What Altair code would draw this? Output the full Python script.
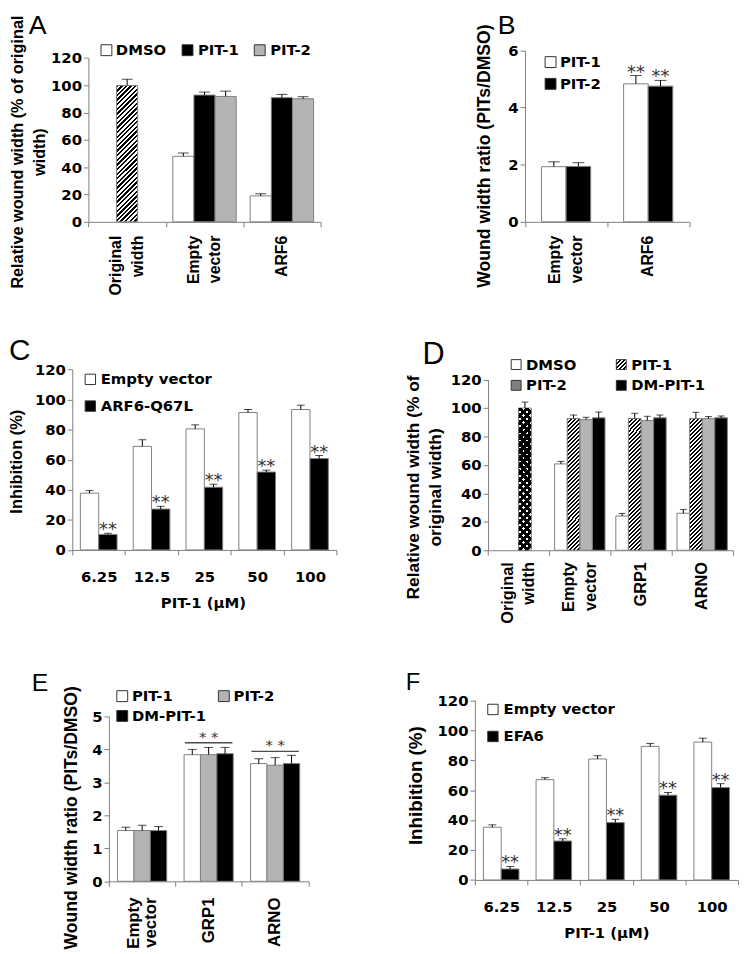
import altair as alt
import pandas as pd

W, H = 739, 946
OX, OY = 8, 8
FH = "DejaVu Sans"
FV = "Liberation Sans"
GRAY = "#808080"
LIGHT = "#b4b4b4"


def cx(v):
    return v - OX


def cy(v):
    return v - OY


# ---------------- data ----------------
A_CATS = ["Original width", "Empty vector", "ARF6"]
A_SERIES = ["DMSO", "PIT-1", "PIT-2"]
A_ORIG = [99.8]
A_ORIG_ERR = [4.6]
A_DMSO = [48.0, 19.0]
A_DMSO_ERR = [2.4, 1.5]
A_PIT1 = [92.8, 90.9]
A_PIT1_ERR = [2.2, 2.4]
A_PIT2 = [91.8, 90.1]
A_PIT2_ERR = [3.9, 1.5]
A_TICKS = [0, 20, 40, 60, 80, 100, 120]

B_CATS = ["Empty vector", "ARF6"]
B_SERIES = ["PIT-1", "PIT-2"]
B_PIT1 = [1.93, 4.83]
B_PIT1_ERR = [0.17, 0.29]
B_PIT2 = [1.94, 4.75]
B_PIT2_ERR = [0.13, 0.20]
B_STARS = ["", "**"]
B_TICKS = [0, 2, 4, 6]

DOSES = ["6.25", "12.5", "25", "50", "100"]
C_SERIES = ["Empty vector", "ARF6-Q67L"]
C_EV = [37.8, 68.9, 80.5, 91.4, 93.4]
C_EV_ERR = [1.7, 4.4, 2.7, 2.0, 2.9]
C_ARF = [10.3, 27.2, 41.7, 51.8, 60.8]
C_ARF_ERR = [0.8, 1.8, 2.0, 1.3, 2.0]
C_STARS = ["**", "**", "**", "**", "**"]
PCT_TICKS = [0, 20, 40, 60, 80, 100, 120]

D_CATS = ["Original width", "Empty vector", "GRP1", "ARNO"]
D_SERIES = ["DMSO", "PIT-1", "PIT-2", "DM-PIT-1"]
D_ORIG = [100.0]
D_ORIG_ERR = [4.2]
D_DMSO = [60.7, 24.1, 26.0]
D_DMSO_ERR = [1.8, 1.8, 2.7]
D_PIT1 = [92.6, 92.6, 92.6]
D_PIT1_ERR = [2.5, 3.7, 4.4]
D_PIT2 = [91.9, 91.2, 92.6]
D_PIT2_ERR = [1.6, 3.0, 1.4]
D_DM = [93.1, 93.1, 93.1]
D_DM_ERR = [4.1, 2.0, 1.3]

E_CATS = ["Empty vector", "GRP1", "ARNO"]
E_SERIES = ["PIT-1", "PIT-2", "DM-PIT-1"]
E_PIT1 = [1.54, 3.84, 3.57]
E_PIT1_ERR = [0.10, 0.16, 0.15]
E_PIT2 = [1.54, 3.84, 3.52]
E_PIT2_ERR = [0.16, 0.22, 0.23]
E_DM = [1.54, 3.87, 3.57]
E_DM_ERR = [0.12, 0.19, 0.25]
E_SIG_CATS = ["GRP1", "ARNO"]
E_SIG_LINE = [4.20, 3.94]
E_TICKS = [0, 1, 2, 3, 4, 5]

F_SERIES = ["Empty vector", "EFA6"]
F_EV = [35.2, 67.0, 80.8, 89.2, 92.1]
F_EV_ERR = [1.6, 1.3, 2.2, 2.0, 2.6]
F_EFA = [7.3, 26.0, 38.3, 56.6, 61.7]
F_EFA_ERR = [1.7, 1.5, 2.2, 1.8, 2.6]
F_STARS = ["**", "**", "**", "**", "**"]


# ---------------- helpers ----------------
def rows(cats, entries):
    out = []
    for series, slot, vals, errs, stars in entries:
        if stars is None:
            stars = [""] * len(vals)
        for c, v, e, s in zip(cats, vals, errs, stars):
            out.append({"cat": c, "slot": slot, "series": series,
                        "value": v, "hi": round(v + e, 3), "star": s})
    return pd.DataFrame(out)


def label_rows(cats):
    out = []
    for c in cats:
        parts = c.split(" ")
        if len(parts) == 1:
            out.append({"cat": c, "text": c, "kind": "single"})
        else:
            out.append({"cat": c, "text": parts[0], "kind": "l1"})
            out.append({"cat": c, "text": " ".join(parts[1:]), "kind": "l2"})
    return pd.DataFrame(out)


def stripes(w, h, period, frac, c1, c2, direction="/"):
    a = (w + h) / (w * w + h * h)
    n = max(1, round((w + h) / period))
    stops = []
    for k in range(n):
        m = (k + frac) / n
        stops += [{"offset": k / n, "color": c1}, {"offset": m, "color": c1},
                  {"offset": m, "color": c2}, {"offset": (k + 1) / n, "color": c2}]
    if direction == "/":
        return {"gradient": "linear", "x1": 0, "y1": 0, "x2": a * w, "y2": a * h, "stops": stops}
    return {"gradient": "linear", "x1": 0, "y1": 1, "x2": a * w, "y2": 1 - a * h, "stops": stops}


def yaxis(axis_x, ticks, title, tsize, tx, ty, lh=None):
    kw = dict(orient="left", offset=-cx(axis_x), values=ticks, format="d", title=title,
              titleFont=FV, titleFontWeight="bold", titleFontSize=tsize, titleAngle=270,
              titleAlign="center", titleBaseline="middle", titleX=tx - axis_x, titleY=cy(ty),
              titleColor="black", labelFont=FH, labelFontWeight="bold", labelFontSize=15,
              labelColor="black", labelPadding=2, tickSize=5, domainColor=GRAY, tickColor=GRAY,
              grid=False, labelFlush=False)
    if lh is not None:
        kw["titleLineHeight"] = lh
    return alt.Axis(**kw)


def xaxis_rot(axis_y):
    # category names are drawn as rotated text layers (see rot_labels)
    return alt.Axis(orient="bottom", offset=cy(axis_y) - H, title=None, labels=False,
                    tickSize=5, tickBand="extent", domainColor=GRAY, tickColor=GRAY,
                    grid=False)


def xaxis_dose(axis_y, title_x):
    return alt.Axis(orient="bottom", offset=cy(axis_y) - H, title="PIT-1 (μM)", titleFont=FH,
                    titleFontWeight="bold", titleFontSize=15, titleColor="black",
                    titleX=cx(title_x), titleY=53, titleBaseline="middle", titleAlign="center",
                    labelAngle=0, labelFont=FH, labelFontWeight="bold", labelFontSize=15,
                    labelBaseline="top", labelPadding=15, labelColor="black", tickSize=5,
                    tickBand="extent", domainColor=GRAY, tickColor=GRAY, grid=False,
                    labelOverlap=False, labelFlush=False)


def rot_labels(cats, top_y, fs=16, lh=22):
    def make(X, Yf):
        df = label_rows(cats)
        out = []
        for kind, dy in (("single", 0), ("l1", -lh / 2), ("l2", lh / 2)):
            sub = df[df["kind"] == kind]
            if len(sub):
                out.append(alt.Chart(sub).mark_text(
                    angle=270, align="right", baseline="middle", font=FV, fontWeight="bold",
                    fontSize=fs, color="black", dy=dy).encode(
                    x=X, y=alt.value(cy(top_y)), text="text:N"))
        return out
    return make


def build_panel(bars_df, special, cats, slots, fills, xr, yr, ydom, xaxis, yax, po, cap,
                star_size=18, star_dy=2, extras=()):
    xs = alt.Scale(domain=cats, range=[cx(xr[0]), cx(xr[1])], paddingInner=0, paddingOuter=0)
    ys = alt.Scale(domain=ydom, range=[cy(yr[0]), cy(yr[1])], nice=False, zero=False)
    osc = alt.Scale(domain=slots, paddingInner=0, paddingOuter=po)
    X = alt.X("cat:N", scale=xs, axis=xaxis, sort=cats)
    XO = alt.XOffset("slot:N", scale=osc, sort=slots)

    def Yf(field):
        return alt.Y(field, scale=ys, axis=yax)

    layers = [alt.Chart(bars_df).mark_bar(stroke=GRAY, strokeWidth=1).encode(
        x=X, xOffset=XO, y=Yf("value:Q"), y2=alt.datum(0),
        fill=alt.Fill("series:N", scale=alt.Scale(domain=list(fills.keys()),
                                                  range=list(fills.values())), legend=None))]
    all_df = bars_df
    for df, fill_list in special:
        for fo, st in fill_list:
            layers.append(alt.Chart(df).mark_bar(fill=fo, stroke=st, strokeWidth=1).encode(
                x=X, xOffset=XO, y=Yf("value:Q"), y2=alt.datum(0)))
        all_df = pd.concat([all_df, df], ignore_index=True)
    layers.append(alt.Chart(all_df).mark_rule(color="black", strokeWidth=1).encode(
        x=X, xOffset=XO, y=Yf("value:Q"), y2="hi:Q"))
    layers.append(alt.Chart(all_df).mark_tick(color="black", thickness=1, size=cap).encode(
        x=X, xOffset=XO, y=Yf("hi:Q")))
    sdf = all_df[all_df["star"] != ""]
    if len(sdf):
        layers.append(alt.Chart(sdf).mark_text(font=FH, fontSize=star_size, color="#333",
                                               baseline="alphabetic", dy=star_dy).encode(
            x=X, xOffset=XO, y=Yf("hi:Q"), text="star:N"))
    for ex in extras:
        layers += ex(X, Yf)
    return alt.layer(*layers)


def legend_entry(label, fill, bx, by, tx, size=11, fs=15):
    d = pd.DataFrame({"label": [label]})
    box = alt.Chart(d).mark_rect(fill=fill, stroke="#333", strokeWidth=1).encode(
        x=alt.value(cx(bx)), x2=alt.value(cx(bx + size)),
        y=alt.value(cy(by)), y2=alt.value(cy(by + size)))
    txt = alt.Chart(d).mark_text(align="left", baseline="middle", font=FH, fontWeight="bold",
                                 fontSize=fs, color="black").encode(
        text="label:N", x=alt.value(cx(tx)), y=alt.value(cy(by + size / 2)))
    return [box, txt]


def letter(ch, x, ybase, size):
    d = pd.DataFrame({"t": [ch]})
    return alt.Chart(d).mark_text(align="left", baseline="alphabetic", font=FV,
                                  fontSize=size, color="black").encode(
        text="t:N", x=alt.value(cx(x)), y=alt.value(cy(ybase)))


# ---------------- Panel A ----------------
a_df = rows(A_CATS[1:], [("DMSO", "DMSO", A_DMSO, A_DMSO_ERR, None),
                         ("PIT-1", "PIT-1", A_PIT1, A_PIT1_ERR, None),
                         ("PIT-2", "PIT-2", A_PIT2, A_PIT2_ERR, None)])
a_orig = rows(A_CATS[:1], [("Original", "PIT-1", A_ORIG, A_ORIG_ERR, None)])
a_hatch = stripes(21.4, 138.0, 4.7, 0.5, "black", "white", "/")
pA = build_panel(
    a_df, [(a_orig, [(a_hatch, GRAY)])], A_CATS, A_SERIES,
    {"DMSO": "white", "PIT-1": "black", "PIT-2": LIGHT},
    (89.3, 324), (219, 53.3), [0, 120], xaxis_rot(219),
    yaxis(89.3, A_TICKS, ["Relative wound width (% of original", "width)"], 16.4, 18, 148, 22),
    po=0.33, cap=11, extras=[rot_labels(A_CATS, 233, 16, 22)])

# ---------------- Panel B ----------------
b_df = rows(B_CATS, [("PIT-1", "PIT-1", B_PIT1, B_PIT1_ERR, B_STARS),
                     ("PIT-2", "PIT-2", B_PIT2, B_PIT2_ERR, B_STARS)])
pB = build_panel(
    b_df, [], B_CATS, B_SERIES, {"PIT-1": "white", "PIT-2": "black"},
    (530.7, 696.7), (219, 45.7), [0, 6], xaxis_rot(219),
    yaxis(530.7, B_TICKS, "Wound width ratio (PITs/DMSO)", 17.8, 490, 152),
    po=0.67, cap=12, extras=[rot_labels(B_CATS, 233, 16, 22)])

# ---------------- Panel C ----------------
c_df = rows(DOSES, [("Empty vector", "Empty vector", C_EV, C_EV_ERR, None),
                    ("ARF6-Q67L", "ARF6-Q67L", C_ARF, C_ARF_ERR, C_STARS)])
pC = build_panel(
    c_df, [], DOSES, C_SERIES, {"Empty vector": "white", "ARF6-Q67L": "black"},
    (73, 340), (550.7, 368.3), [0, 120], xaxis_dose(550.7, 205),
    yaxis(73, PCT_TICKS, "Inhibition (%)", 16.6, 17, 461),
    po=0.44, cap=8)

# ---------------- Panel D ----------------
d_df = rows(D_CATS[1:], [("DMSO", "DMSO", D_DMSO, D_DMSO_ERR, None),
                         ("PIT-2", "PIT-2", D_PIT2, D_PIT2_ERR, None),
                         ("DM-PIT-1", "DM-PIT-1", D_DM, D_DM_ERR, None)])
d_pit1 = rows(D_CATS[1:], [("PIT-1", "PIT-1", D_PIT1, D_PIT1_ERR, None)])
d_orig = rows(D_CATS[:1], [("Original", "PIT-2", D_ORIG, D_ORIG_ERR, None)])
d_hatch = stripes(12.75, 133.0, 4.0, 0.5, "black", "white", "/")
d_dot_a = stripes(12.75, 144.0, 7.0, 0.6, "black", "white", "\\")
d_dot_b = stripes(12.75, 144.0, 7.0, 0.6, "black", "rgba(0,0,0,0)", "/")
pD = build_panel(
    d_df, [(d_pit1, [(d_hatch, GRAY)]), (d_orig, [(d_dot_a, GRAY), (d_dot_b, "transparent")])],
    D_CATS, D_SERIES, {"DMSO": "white", "PIT-2": LIGHT, "DM-PIT-1": "black"},
    (493.3, 740.7), (551, 378.5), [0, 120], xaxis_rot(551),
    yaxis(493.3, PCT_TICKS, ["Relative wound width (% of", "original width)"], 17.5, 418, 487, 22),
    po=0.43, cap=7, extras=[rot_labels(D_CATS, 563, 16.5, 22)])

# ---------------- Panel E ----------------
e_df = rows(E_CATS, [("PIT-1", "PIT-1", E_PIT1, E_PIT1_ERR, None),
                     ("PIT-2", "PIT-2", E_PIT2, E_PIT2_ERR, None),
                     ("DM-PIT-1", "DM-PIT-1", E_DM, E_DM_ERR, None)])
e_sig = pd.DataFrame({"cat": E_SIG_CATS, "line": E_SIG_LINE, "star": ["* *", "* *"]})


def e_extra(X, Yf):
    return [
        alt.Chart(e_sig).mark_tick(color="black", thickness=1.5, size=48).encode(
            x=X, y=Yf("line:Q")),
        alt.Chart(e_sig).mark_text(font=FH, fontSize=15, color="#333", baseline="alphabetic",
                                   dy=-1).encode(x=X, y=Yf("line:Q"), text="star:N"),
    ]


pE = build_panel(
    e_df, [], E_CATS, E_SERIES, {"PIT-1": "white", "PIT-2": LIGHT, "DM-PIT-1": "black"},
    (110, 311.7), (885.7, 719), [0, 5], xaxis_rot(885.7),
    yaxis(110, E_TICKS, "Wound width ratio (PITs/DMSO)", 17.8, 72.5, 821),
    po=0.53, cap=9, extras=[e_extra, rot_labels(E_CATS, 902, 17, 17)])

# ---------------- Panel F ----------------
f_df = rows(DOSES, [("Empty vector", "Empty vector", F_EV, F_EV_ERR, None),
                    ("EFA6", "EFA6", F_EFA, F_EFA_ERR, F_STARS)])
pF = build_panel(
    f_df, [], DOSES, F_SERIES, {"Empty vector": "white", "EFA6": "black"},
    (480, 746), (884.3, 702.7), [0, 120], xaxis_dose(884.3, 613),
    yaxis(480, PCT_TICKS, "Inhibition (%)", 19, 420, 788.5),
    po=0.48, cap=8)

# ---------------- legends & letters ----------------
decor = []
decor += legend_entry("DMSO", "white", 102, 40, 117)
decor += legend_entry("PIT-1", "black", 184, 40, 200)
decor += legend_entry("PIT-2", LIGHT, 257, 40, 273)
decor += legend_entry("PIT-1", "white", 551, 52, 566)
decor += legend_entry("PIT-2", "black", 551, 74, 566)
decor += legend_entry("Empty vector", "white", 86, 373, 101.7, 10.5)
decor += legend_entry("ARF6-Q67L", "black", 86, 400, 101.7, 10.5)
decor += legend_entry("DMSO", "white", 516.7, 358.3, 531.7, 10)
decor += legend_entry("PIT-1", stripes(10, 10, 4.0, 0.5, "black", "white", "/"), 623, 358.3, 638, 10)
decor += legend_entry("PIT-2", GRAY, 516.7, 379.3, 531.7, 10)
decor += legend_entry("DM-PIT-1", "black", 623, 379.3, 638, 10)
decor += legend_entry("PIT-1", "white", 118, 693, 133.3)
decor += legend_entry("PIT-2", LIGHT, 220.7, 693, 236)
decor += legend_entry("DM-PIT-1", "black", 118, 713, 133.3)
decor += legend_entry("Empty vector", "white", 493, 706.7, 509, 10.5)
decor += legend_entry("EFA6", "black", 493, 734, 509, 10.5)
decor += [letter("A", 29, 29, 27), letter("B", 503, 29, 27), letter("C", 9, 359, 30),
          letter("D", 427, 363, 31), letter("E", 32, 693, 25), letter("F", 410, 692, 24)]

chart = alt.layer(pA, pB, pC, pD, pE, pF, *decor).resolve_scale(
    x="independent", y="independent", xOffset="independent", fill="independent"
).resolve_axis(x="independent", y="independent").properties(
    width=W, height=H, padding=0, autosize=alt.AutoSizeParams(type="none"),
    background="white"
).configure_view(stroke=None)

chart.save("out.html", embed_options={"renderer": "svg", "actions": False})
